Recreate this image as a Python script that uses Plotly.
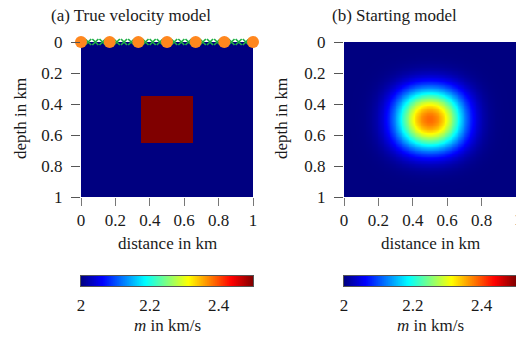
import numpy as np
import plotly.graph_objects as go

# ---- data ----
BACKGROUND_VELOCITY = 2.0          # km/s
ANOMALY_VELOCITY = 2.5             # km/s
ANOMALY_X = [0.35, 0.65]           # km
ANOMALY_Z = [0.35, 0.65]           # km
SMOOTH_SIGMA = 0.097               # km, smoothing used for starting model
SOURCE_X = [0.0, 1/6, 2/6, 3/6, 4/6, 5/6, 1.0]
SOURCE_Z = [0, 0, 0, 0, 0, 0, 0]
RECEIVER_X = [0.0, 0.0417, 0.0833, 0.125, 0.1667, 0.2083, 0.25, 0.2917, 0.3333,
              0.375, 0.4167, 0.4583, 0.5, 0.5417, 0.5833, 0.625, 0.6667, 0.7083,
              0.75, 0.7917, 0.8333, 0.875, 0.9167, 0.9583, 1.0]
RECEIVER_Z = [0] * len(RECEIVER_X)
CBAR_RANGE = [2.0, 2.5]
TICKS = [0, 0.2, 0.4, 0.6, 0.8, 1]
TICK_TEXT = ["0", "0.2", "0.4", "0.6", "0.8", "1"]
CBAR_TICKS = [2.0, 2.2, 2.4]
CBAR_TICK_TEXT = ["2", "2.2", "2.4"]

# ---- grids ----
N = 200
xc = (np.arange(N) + 0.5) / N
zc = (np.arange(N) + 0.5) / N
X, Z = np.meshgrid(xc, zc)
true_model = np.full((N, N), BACKGROUND_VELOCITY)
mask = (X >= ANOMALY_X[0]) & (X <= ANOMALY_X[1]) & (Z >= ANOMALY_Z[0]) & (Z <= ANOMALY_Z[1])
true_model[mask] = ANOMALY_VELOCITY

# starting model: gaussian-smoothed true model (separable convolution)
h = 1.0 / N
r = int(4 * SMOOTH_SIGMA / h)
k = np.exp(-0.5 * ((np.arange(-r, r + 1) * h) / SMOOTH_SIGMA) ** 2)
k /= k.sum()
pad = np.pad(true_model, r, mode="edge")
tmp = np.apply_along_axis(lambda v: np.convolve(v, k, mode="valid"), 1, pad)
start_model = np.apply_along_axis(lambda v: np.convolve(v, k, mode="valid"), 0, tmp)

# colour-bar strip (values spanning the colour range)
NB = 256
cb_vals = CBAR_RANGE[0] + (np.arange(NB) + 0.5) / NB * (CBAR_RANGE[1] - CBAR_RANGE[0])

jet = [[0.0, "rgb(0,0,128)"], [0.125, "rgb(0,0,255)"], [0.375, "rgb(0,255,255)"],
       [0.625, "rgb(255,255,0)"], [0.875, "rgb(255,0,0)"], [1.0, "rgb(128,0,0)"]]

FONT = "Liberation Serif"
FS = 17
TXT = "#1a1a1a"
W, H = 516, 337

def px_x(p):
    return p / W

def px_y(p):
    return 1 - p / H

hm = dict(colorscale=jet, zmin=CBAR_RANGE[0], zmax=CBAR_RANGE[1], showscale=False,
          hoverinfo="skip")

fig = go.Figure()
fig.add_trace(go.Heatmap(x=xc, y=zc, z=true_model, xaxis="x", yaxis="y", **hm))
fig.add_trace(go.Heatmap(x=xc, y=zc, z=start_model, xaxis="x2", yaxis="y2", **hm))
fig.add_trace(go.Heatmap(x=cb_vals, y=[0], z=[cb_vals], xaxis="x3", yaxis="y3", **hm))
fig.add_trace(go.Heatmap(x=cb_vals, y=[0], z=[cb_vals], xaxis="x4", yaxis="y4", **hm))
fig.add_trace(go.Scatter(x=RECEIVER_X, y=RECEIVER_Z, mode="markers", cliponaxis=False,
                         marker=dict(symbol="x-thin", size=6, color="rgb(30,175,70)",
                                     line=dict(width=1.7, color="rgb(30,175,70)")),
                         xaxis="x", yaxis="y", showlegend=False, hoverinfo="skip"))
fig.add_trace(go.Scatter(x=SOURCE_X, y=SOURCE_Z, mode="markers", cliponaxis=False,
                         marker=dict(symbol="circle", size=12, color="rgb(255,135,30)"),
                         xaxis="x", yaxis="y", showlegend=False, hoverinfo="skip"))

tf = dict(family=FONT, size=FS, color=TXT)
xax = dict(range=[0, 1], tickvals=TICKS, ticktext=TICK_TEXT, ticks="outside",
           ticklen=8, tickcolor="#777", tickwidth=1, showgrid=False, zeroline=False,
           showline=False, tickfont=tf, automargin=False, ticklabelstandoff=0)
yax = dict(range=[1, 0], tickvals=TICKS, ticktext=TICK_TEXT, ticks="outside",
           ticklen=9, tickcolor="#555", tickwidth=1, showgrid=False, zeroline=False,
           showline=False, tickfont=tf, automargin=False, ticklabelstandoff=5)
cbx = dict(range=CBAR_RANGE, tickvals=CBAR_TICKS, ticktext=CBAR_TICK_TEXT, ticks="outside",
           ticklen=4, tickcolor="rgba(0,0,0,0)", showgrid=False, zeroline=False,
           showline=True, mirror=True, linecolor="#555", linewidth=1, tickfont=tf,
           automargin=False)
cby = dict(range=[-0.5, 0.5], showticklabels=False, ticks="", showgrid=False,
           zeroline=False, showline=True, mirror=True, linecolor="#555", linewidth=1,
           automargin=False)

PY = [px_y(197), px_y(42)]
CY = [px_y(286), px_y(276)]
L1 = [px_x(81), px_x(253)]
L2 = [px_x(344), px_x(516)]

fig.update_layout(
    width=W, height=H, margin=dict(l=0, r=0, t=0, b=0),
    paper_bgcolor="white", plot_bgcolor="white", showlegend=False,
    xaxis=dict(xax, domain=L1, anchor="y"),
    yaxis=dict(yax, domain=PY, anchor="x"),
    xaxis2=dict(xax, domain=L2, anchor="y2"),
    yaxis2=dict(yax, domain=PY, anchor="x2"),
    xaxis3=dict(cbx, domain=L1, anchor="y3"),
    yaxis3=dict(cby, domain=CY, anchor="x3"),
    xaxis4=dict(cbx, domain=L2, anchor="y4"),
    yaxis4=dict(cby, domain=CY, anchor="x4"),
)

def ann(text, x, y, angle=0, xanchor="center"):
    return dict(text=text, x=px_x(x), y=px_y(y), xref="paper", yref="paper",
                xanchor=xanchor, yanchor="middle", showarrow=False, textangle=angle,
                font=tf)

fig.update_layout(annotations=[
    ann("(a) True velocity model", 131, 16),
    ann("(b) Starting model", 394, 16),
    ann("distance in km", 167, 243),
    ann("distance in km", 430, 243),
    ann("depth in km", 20, 119, -90),
    ann("depth in km", 281, 119, -90),
    ann("<i>m</i> in km/s", 167, 325),
    ann("<i>m</i> in km/s", 430, 325),
    ann(TICK_TEXT[-1], 512, 219, xanchor="left"),
])

fig.write_html("out.html", config={"displayModeBar": False},
               post_script="document.body.style.margin='0px';document.body.style.overflow='hidden';")
